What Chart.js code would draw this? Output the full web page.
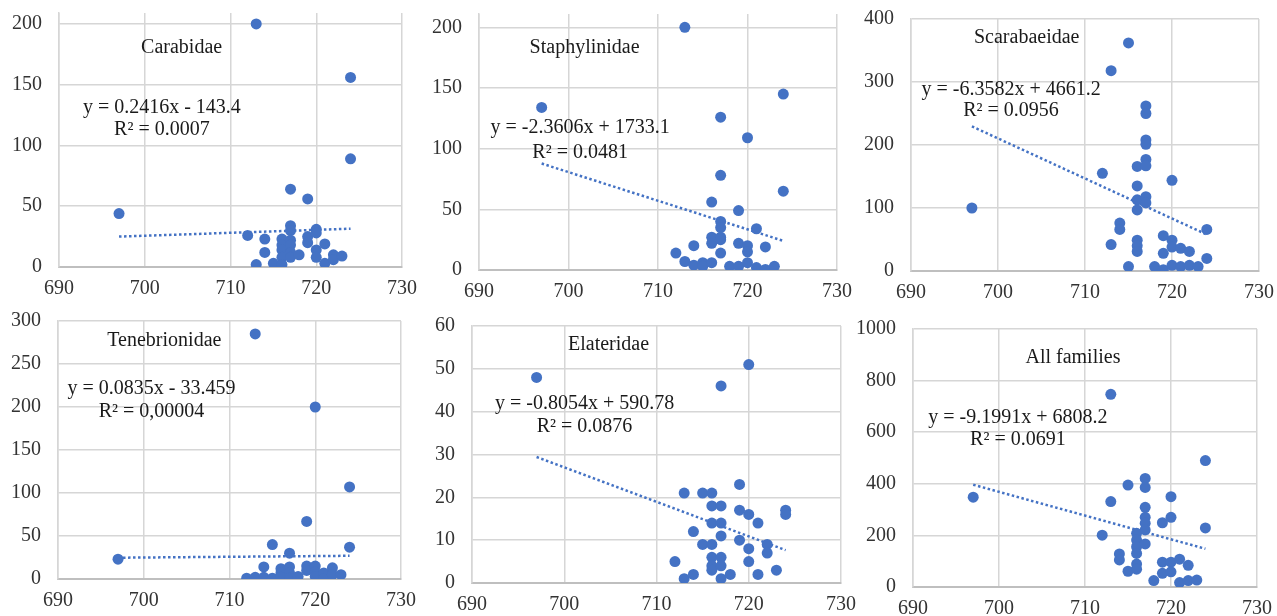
<!DOCTYPE html>
<html>
<head>
<meta charset="utf-8">
<script src="https://cdn.jsdelivr.net/npm/chart.js@4.4.0/dist/chart.umd.min.js"></script>
<style>
  html, body { margin: 0; padding: 0; background: #fff; overflow: hidden; width: 1277px; height: 616px; }
  canvas { position: absolute; }
</style>
</head>
<body>
<script>
// elevation (m) of each trap site and catch per family
const carabidaeX = [697,712,713,713,714,714,715,716,716,716,716,716,717,717,717,717,717,717,717,718,719,719,719,720,720,720,720,721,721,722,722,723,724,724];
const carabidaeY = [44,26,200,2,23,12,3,23,18,14,8,2,64,34,30,22,18,12,8,10,56,25,20,31,28,14,8,19,3,10,6,9,156,89];

const staphylinidaeX = [697,712,713,713,714,714,715,715,716,716,716,716,717,717,717,717,717,717,717,718,719,719,719,720,720,720,720,721,721,722,722,723,724,724];
const staphylinidaeY = [134,14,200,7,20,4,6,3,56,27,22,6,126,78,40,35,27,25,14,3,49,22,3,109,20,15,6,34,2,19,0.5,3,145,65];

const scarabaeidaeX = [697,712,713,713,714,714,715,715,716,716,716,716,716,716,716,717,717,717,717,717,717,717,717,718,719,719,719,720,720,720,720,721,721,722,722,723,724,724];
const scarabaeidaeY = [100,155,318,42,76,66,362,7,166,135,113,97,49,40,31,262,250,208,201,177,167,118,108,7,56,28,2,144,49,38,9,36,7,31,9,7,66,20];

const tenebrionidaeX = [697,712,713,713,714,714,715,715,716,716,716,717,717,717,717,718,719,719,719,720,720,720,720,721,721,722,722,723,724,724];
const tenebrionidaeY = [23,1,285,2,14,2,40,1,12,7,2,30,14,7,1,3,67,15,10,200,15,8,3,7,0,13,5,5,107,37];

const elateridaeX = [697,712,713,713,714,714,715,715,716,716,716,716,716,716,716,717,717,717,717,717,717,717,718,719,719,719,720,720,720,720,721,721,722,722,723,724,724];
const elateridaeY = [48,5,21,1,12,2,21,9,21,18,14,9,6,4,3,46,18,14,11,6,4,1,2,23,17,10,51,16,8,5,14,2,9,7,3,17,16];

const allFamiliesX = [697,712,713,713,714,714,715,715,716,716,716,716,716,716,717,717,717,717,717,717,717,718,719,719,719,720,720,720,720,721,721,722,722,723,724,724];
const allFamiliesY = [348,201,747,331,128,105,395,61,208,182,156,130,89,69,421,386,309,270,247,221,167,25,249,96,53,350,270,96,59,108,17,84,25,27,490,229];

// linear trend coefficients as printed on each panel
const slopes     = [0.2416, -2.3606, -6.3582, 0.0835, -0.8054, -9.1991];
const intercepts = [-143.4, 1733.1, 4661.2, -33.459, 590.78, 6808.2];
const equations  = ['y = 0.2416x - 143.4', 'y = -2.3606x + 1733.1', 'y = -6.3582x + 4661.2',
                    'y = 0.0835x - 33.459', 'y = -0.8054x + 590.78', 'y = -9.1991x + 6808.2'];
const rSquared   = ['R² = 0.0007', 'R² = 0.0481', 'R² = 0.0956', 'R² = 0,00004', 'R² = 0.0876', 'R² = 0.0691'];
const names      = ['Carabidae', 'Staphylinidae', 'Scarabaeidae', 'Tenebrionidae', 'Elateridae', 'All families'];

// y axis range and step per panel
const yMax  = [209, 211, 400, 300, 60, 1000];
const yStep = [50, 50, 100, 50, 10, 200];

const FONT = '"Liberation Serif", "Times New Roman", serif';
const FONT_SIZE = 20;
const Y_TICK_PAD = 17;
const BLUE = '#4472c4';
const GRID = '#d6d6d6';
// the y axis reserves half a label line plus its tick padding above the plot
const PAD_TOP = FONT_SIZE * 0.6 + Y_TICK_PAD;
const PAD_LEFT = 62, PAD_RIGHT = 24, PAD_BOTTOM = 40;

const panels = [
  { xs: carabidaeX, ys: carabidaeY, box: [59, 13, 403, 267], labelX: 702, titleX: 704.3, titleY: 180, eqY: 131, r2Y: 113 },
  { xs: staphylinidaeX, ys: staphylinidaeY, box: [479, 14, 838, 270], labelX: 701.3, titleX: 701.8, titleY: 183, eqY: 117, r2Y: 97 },
  { xs: scarabaeidaeX, ys: scarabaeidaeY, box: [911, 19, 1260, 271], labelX: 701.5, titleX: 703.3, titleY: 370, eqY: 287, r2Y: 254 },
  { xs: tenebrionidaeX, ys: tenebrionidaeY, box: [58, 321, 402, 579], labelX: 700.9, titleX: 702.4, titleY: 277, eqY: 221, r2Y: 194 },
  { xs: elateridaeX, ys: elateridaeY, box: [472, 326, 842, 583], labelX: 702.2, titleX: 704.8, titleY: 55.6, eqY: 41.8, r2Y: 36.4 },
  { xs: allFamiliesX, ys: allFamiliesY, box: [913, 329, 1258, 587], labelX: 702.2, titleX: 708.6, titleY: 888, eqY: 655, r2Y: 570 }
];

panels.forEach((p, i) => {
  const [L, T, R, B] = p.box;
  const canvas = document.createElement('canvas');
  canvas.width = R - L + PAD_LEFT + PAD_RIGHT;
  canvas.height = Math.round(B - T + PAD_TOP + PAD_BOTTOM);
  canvas.style.left = (L - PAD_LEFT) + 'px';
  canvas.style.top = Math.round(T - PAD_TOP) + 'px';
  document.body.appendChild(canvas);

  const x0 = Math.min(...p.xs), x1 = Math.max(...p.xs);
  const trend = [x0, x1].map(x => ({ x, y: slopes[i] * x + intercepts[i] }));

  const labels = {
    id: 'panelLabels',
    afterDraw(chart) {
      const { ctx, scales: { x, y } } = chart;
      ctx.save();
      ctx.font = FONT_SIZE + 'px ' + FONT;
      ctx.fillStyle = '#1a1a1a';
      ctx.textAlign = 'center';
      ctx.textBaseline = 'middle';
      ctx.fillText(names[i], x.getPixelForValue(p.titleX), y.getPixelForValue(p.titleY));
      ctx.fillText(equations[i], x.getPixelForValue(p.labelX), y.getPixelForValue(p.eqY));
      ctx.fillText(rSquared[i], x.getPixelForValue(p.labelX), y.getPixelForValue(p.r2Y));
      ctx.restore();
    }
  };

  new Chart(canvas, {
    type: 'scatter',
    data: {
      datasets: [{
        data: p.xs.map((x, k) => ({ x, y: p.ys[k] })),
        pointRadius: 5.5,
        pointBackgroundColor: BLUE,
        pointBorderColor: BLUE,
        pointBorderWidth: 0
      }, {
        data: trend,
        showLine: true,
        borderColor: BLUE,
        borderWidth: 2.5,
        borderDash: [2.5, 2.5],
        pointRadius: 0
      }]
    },
    options: {
      responsive: false,
      animation: false,
      events: [],
      layout: { padding: { top: 0, right: PAD_RIGHT, left: 0, bottom: 0 } },
      plugins: { legend: { display: false }, tooltip: { enabled: false } },
      scales: {
        x: {
          type: 'linear',
          min: 690, max: 730,
          ticks: { stepSize: 10, padding: 10, maxRotation: 0, autoSkip: false, color: '#333', font: { family: FONT, size: FONT_SIZE } },
          grid: { color: GRID, lineWidth: 1.5, drawTicks: false },
          border: { color: '#bfbfbf', width: 2 },
          afterFit(s) { s.height = PAD_BOTTOM; }
        },
        y: {
          min: 0, max: yMax[i],
          ticks: { color: '#333', padding: Y_TICK_PAD, font: { family: FONT, size: FONT_SIZE }, callback: v => String(v) },
          grid: { color: GRID, lineWidth: 1.5, drawTicks: false },
          border: { color: GRID, width: 1.5 },
          afterBuildTicks(s) {
            const ticks = [];
            for (let v = 0; v <= yMax[i]; v += yStep[i]) ticks.push({ value: v });
            s.ticks = ticks;
          },
          afterFit(s) { s.width = PAD_LEFT; }
        }
      }
    },
    plugins: [labels]
  });
});
</script>
</body>
</html>
